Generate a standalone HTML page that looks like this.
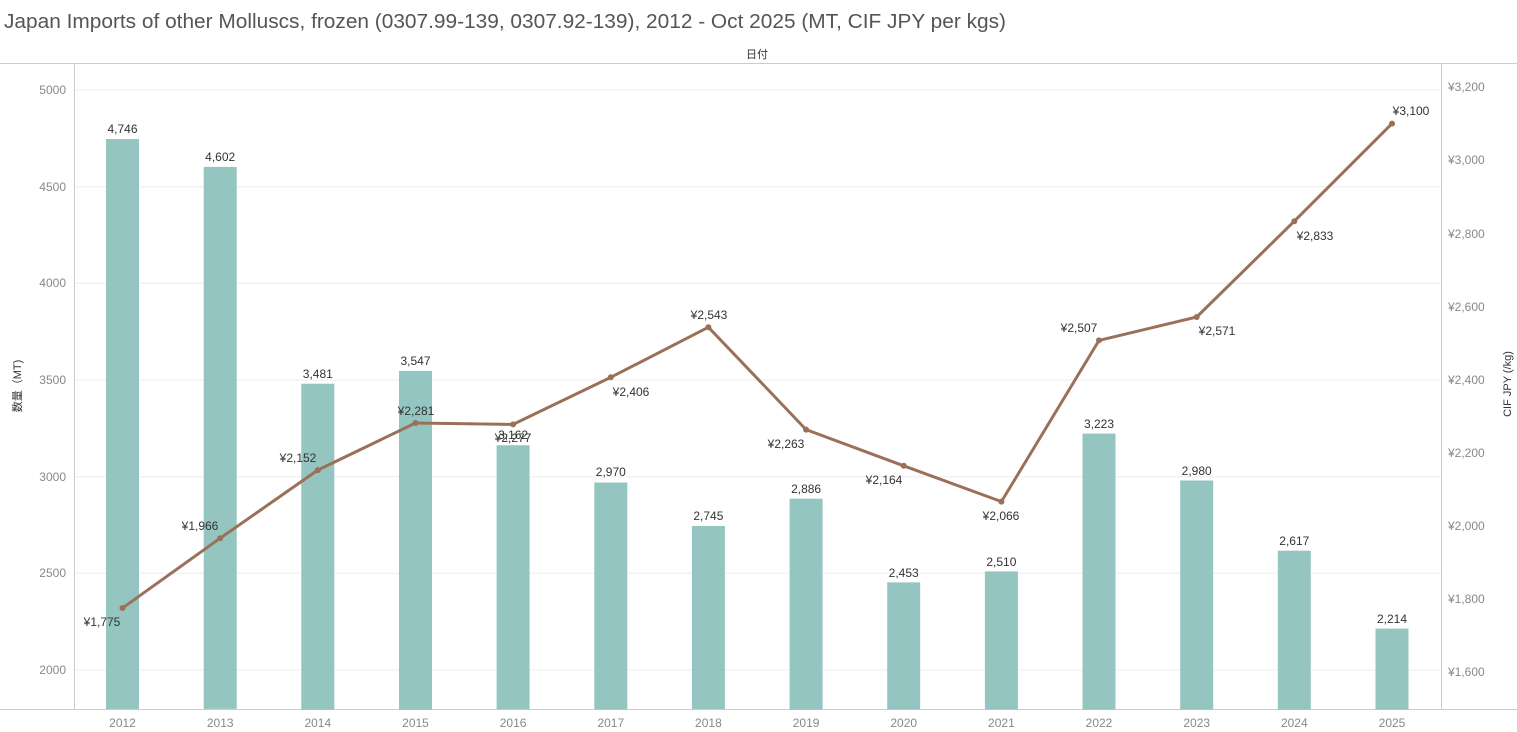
<!DOCTYPE html>
<html><head><meta charset="utf-8"><style>
body{margin:0;background:#fff;}
svg{display:block;font-family:"Liberation Sans","Noto Sans CJK JP",sans-serif;}
</style></head><body>
<svg width="1517" height="732" viewBox="0 0 1517 732" xmlns="http://www.w3.org/2000/svg">
<text x="4" y="28" font-size="20" fill="#555" textLength="1002" lengthAdjust="spacingAndGlyphs">Japan Imports of other Molluscs, frozen (0307.99-139, 0307.92-139), 2012 - Oct 2025 (MT, CIF JPY per kgs)</text>
<text x="757" y="58" font-size="11" fill="#333" text-anchor="middle">日付</text>
<line x1="0" y1="63.5" x2="1517" y2="63.5" stroke="#ccc"/>
<g stroke="#eee" stroke-width="1">
<line x1="74" x2="1441" y1="670" y2="670"/><line x1="74" x2="1441" y1="573.3" y2="573.3"/>
<line x1="74" x2="1441" y1="476.7" y2="476.7"/><line x1="74" x2="1441" y1="380" y2="380"/>
<line x1="74" x2="1441" y1="283.3" y2="283.3"/><line x1="74" x2="1441" y1="186.7" y2="186.7"/>
<line x1="74" x2="1441" y1="90" y2="90"/>
</g>
<line x1="74.5" y1="63" x2="74.5" y2="709" stroke="#ccc"/>
<line x1="1441.5" y1="63" x2="1441.5" y2="709" stroke="#ccc"/>
<line x1="0" y1="709.5" x2="1517" y2="709.5" stroke="#ccc"/>
<g font-size="12" fill="#888" text-anchor="end">
<text x="66" y="674">2000</text><text x="66" y="577">2500</text><text x="66" y="481">3000</text>
<text x="66" y="384">3500</text><text x="66" y="287">4000</text><text x="66" y="191">4500</text><text x="66" y="94">5000</text>
</g>
<g font-size="12" fill="#888">
<text x="1448" y="91">¥3,200</text><text x="1448" y="164">¥3,000</text><text x="1448" y="238">¥2,800</text>
<text x="1448" y="311">¥2,600</text><text x="1448" y="384">¥2,400</text><text x="1448" y="457">¥2,200</text>
<text x="1448" y="530">¥2,000</text><text x="1448" y="603">¥1,800</text><text x="1448" y="676">¥1,600</text>
</g>
<text transform="translate(21,386) rotate(-90)" font-size="11" fill="#333" text-anchor="middle">数量（MT)</text>
<text transform="translate(1511,384) rotate(-90)" font-size="11" fill="#333" text-anchor="middle">CIF JPY (/kg)</text>
<g fill="#95c5c0">
<rect x="106" y="139.1" width="33" height="570"/>
<rect x="203.7" y="166.9" width="33" height="542"/>
<rect x="301.3" y="383.7" width="33" height="326"/>
<rect x="399" y="370.9" width="33" height="339"/>
<rect x="496.6" y="445.3" width="33" height="264"/>
<rect x="594.3" y="482.5" width="33" height="227"/>
<rect x="691.9" y="526" width="33" height="183"/>
<rect x="789.6" y="498.7" width="33" height="211"/>
<rect x="887.2" y="582.4" width="33" height="127"/>
<rect x="984.9" y="571.4" width="33" height="138"/>
<rect x="1082.5" y="433.6" width="33" height="276"/>
<rect x="1180.2" y="480.5" width="33" height="229"/>
<rect x="1277.8" y="550.7" width="33" height="159"/>
<rect x="1375.5" y="628.6" width="33" height="81"/>
</g>
<g font-size="12" fill="#333" text-anchor="middle">
<text x="122.5" y="133">4,746</text><text x="220.2" y="161">4,602</text><text x="317.8" y="378">3,481</text>
<text x="415.5" y="365">3,547</text><text x="513.1" y="439">3,162</text><text x="610.8" y="476">2,970</text>
<text x="708.4" y="520">2,745</text><text x="806.1" y="493">2,886</text><text x="903.7" y="577">2,453</text>
<text x="1001.4" y="566">2,510</text><text x="1099" y="428">3,223</text><text x="1196.7" y="475">2,980</text>
<text x="1294.3" y="545">2,617</text><text x="1392" y="623">2,214</text>
</g>
<polyline fill="none" stroke="#9b7059" stroke-width="3" points="122.5,608 220.2,538.2 317.8,470.1 415.5,423 513.1,424.4 610.8,377.3 708.4,327.2 806.1,429.6 903.7,465.8 1001.4,501.6 1099,340.4 1196.7,317 1294.3,221.2 1392,123.6"/>
<g fill="#9b7059">
<circle cx="122.5" cy="608" r="3"/><circle cx="220.2" cy="538.2" r="3"/><circle cx="317.8" cy="470.1" r="3"/>
<circle cx="415.5" cy="423" r="3"/><circle cx="513.1" cy="424.4" r="3"/><circle cx="610.8" cy="377.3" r="3"/>
<circle cx="708.4" cy="327.2" r="3"/><circle cx="806.1" cy="429.6" r="3"/><circle cx="903.7" cy="465.8" r="3"/>
<circle cx="1001.4" cy="501.6" r="3"/><circle cx="1099" cy="340.4" r="3"/><circle cx="1196.7" cy="317" r="3"/>
<circle cx="1294.3" cy="221.2" r="3"/><circle cx="1392" cy="123.6" r="3"/>
</g>
<g font-size="12" fill="#333" text-anchor="middle">
<text x="102" y="626">¥1,775</text><text x="200" y="530">¥1,966</text><text x="298" y="462">¥2,152</text>
<text x="416" y="415">¥2,281</text><text x="513" y="442">¥2,277</text><text x="631" y="396">¥2,406</text>
<text x="709" y="319">¥2,543</text><text x="786" y="448">¥2,263</text><text x="884" y="484">¥2,164</text>
<text x="1001" y="520">¥2,066</text><text x="1079" y="332">¥2,507</text><text x="1217" y="335">¥2,571</text>
<text x="1315" y="240">¥2,833</text><text x="1411" y="115">¥3,100</text>
</g>
<g font-size="12" fill="#888" text-anchor="middle">
<text x="122.5" y="727">2012</text><text x="220.2" y="727">2013</text><text x="317.8" y="727">2014</text>
<text x="415.5" y="727">2015</text><text x="513.1" y="727">2016</text><text x="610.8" y="727">2017</text>
<text x="708.4" y="727">2018</text><text x="806.1" y="727">2019</text><text x="903.7" y="727">2020</text>
<text x="1001.4" y="727">2021</text><text x="1099" y="727">2022</text><text x="1196.7" y="727">2023</text>
<text x="1294.3" y="727">2024</text><text x="1392" y="727">2025</text>
</g>
</svg>
</body></html>
